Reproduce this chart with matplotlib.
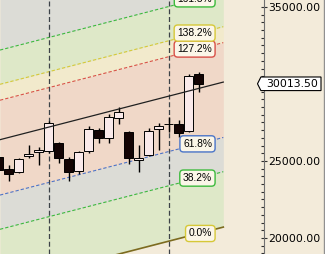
import numpy as np
import matplotlib
matplotlib.use("Agg")
import matplotlib.pyplot as plt
from matplotlib.patches import Polygon
from matplotlib.lines import Line2D
from matplotlib.ticker import MultipleLocator, FormatStrFormatter

# candles (index, open, high, low, close)
bar_idx = list(range(21))
opens = [25260, 24480, 24286, 25324, 25584, 25649, 26169, 25130, 24351, 25649,
         27013, 26494, 27792, 26883, 25065, 25389, 27078, 27430, 27402, 26948, 30649]
highs = [25519, 24740, 25200, 26039, 25909, 27597, 26230, 25250, 25650, 27272,
         27143, 28052, 28506, 26948, 26039, 27143, 27467, 27857, 27662, 30649, 30779]
lows = [24156, 23701, 24200, 25195, 24740, 25500, 24870, 23701, 24156, 25519,
        26169, 26169, 27402, 24805, 24286, 25300, 25714, 26883, 26558, 26900, 29480]
closes = [24416, 24156, 25130, 25454, 25714, 27467, 25195, 24286, 25584, 27078,
          26494, 27857, 28182, 25195, 25195, 26948, 27272, 27402, 26818, 30519, 30013.5]

# fibonacci channel
fib_levels = [0.0, 0.382, 0.618, 1.0, 1.272, 1.382, 1.618]
fib_labels = ["0.0%", "38.2%", "61.8%", None, "127.2%", "138.2%", "161.8%"]
channel_start = 16943   # 0% line at bar 0
channel_slope = 167.5   # per bar
channel_height = 9416   # 100% width
channel_end = 22.48
marker_bars = [5, 17]
# 30000 sits under the last-price tag, so only these carry labels
price_ticks = [20000, 25000, 35000]

bg = "#f3ebda"
line_colors = ["#7d6b1f", "#3cba3c", "#4a74c8", "#202020", "#d85048", "#d6c838", "#3cba3c"]
box_colors = ["#d6c838", "#3cba3c", "#4a74c8", None, "#d85048", "#d6c838", "#3cba3c"]
band_colors = ["#dee8c8", "#dcdcd6", "#f0d8c8", "#f0d8c8", "#f2eacc", "#dee8c8"]
top_color = "#dcdcd6"

fig = plt.figure(figsize=(3.25, 2.54), dpi=100)
fig.patch.set_facecolor(bg)
ax = fig.add_axes([0, 0, 263.5 / 325, 1])
ax.set_facecolor(bg)
ax.set_xlim(0.15, 26.5)
ax.set_ylim(18961, 35454)

xs = np.array([0.15, channel_end])
base = channel_start + channel_slope * xs
lvl = [base + f * channel_height for f in fib_levels]
for k, col in enumerate(band_colors):
    ax.fill_between(xs, lvl[k], lvl[k + 1], color=col, lw=0, zorder=0)
ax.fill_between(xs, lvl[-1], 40000, color=top_color, lw=0, zorder=0)

for k, f in enumerate(fib_levels):
    if f == 0.0:
        ax.plot(xs, lvl[k], color=line_colors[k], lw=1.2, zorder=1)
    elif f == 1.0:
        ax.plot(xs, lvl[k], color=line_colors[k], lw=0.9, zorder=3)
    else:
        ax.plot(xs, lvl[k], color=line_colors[k], lw=0.8, dashes=(3, 1.8), zorder=1)

for b in marker_bars:
    ax.axvline(b, color="#3c4248", lw=0.9, dashes=(4, 2.2), zorder=1)

# candles
o = np.array(opens)
c = np.array(closes)
up = c >= o
ax.vlines(bar_idx, lows, highs, color="black", lw=1, zorder=2)
ax.bar(bar_idx, np.abs(c - o), bottom=np.minimum(o, c), width=0.85,
       color=np.where(up, "#faeaea", "#140404"), edgecolor="black", lw=0.7, zorder=2.5)

# fib labels
lab_x = 20
for k, f in enumerate(fib_levels):
    if fib_labels[k] is None:
        continue
    y = channel_start + channel_slope * lab_x + f * channel_height
    ax.text(21.35, y, fib_labels[k], ha="right", va="center", fontsize=7.4,
            family="Liberation Sans", color="black", zorder=6, clip_on=False,
            bbox=dict(boxstyle="round,pad=0.3,rounding_size=0.35", fc="#fbf6e8",
                      ec=box_colors[k], lw=1))

# price axis
for s in ["left", "top", "bottom"]:
    ax.spines[s].set_visible(False)
ax.spines["right"].set_color("#707070")
ax.xaxis.set_visible(False)
ax.yaxis.tick_right()
ax.set_yticks(price_ticks)
ax.yaxis.set_major_formatter(FormatStrFormatter("%.2f"))
ax.yaxis.set_minor_locator(MultipleLocator(500))
ax.tick_params(axis="y", which="major", direction="inout", length=4.5, width=0.8,
               color="#303030", pad=1.2, labelsize=7.8, labelcolor="black")
ax.tick_params(axis="y", which="minor", direction="in", length=2.2, width=0.8, color="#303030")

# last price tag
last = closes[-1]
fig.canvas.draw()
_, yd = ax.transData.transform((0, last))
xr = ax.bbox.x1
h = 6.8
tag = Polygon([[xr - 6, yd], [xr - 2.6, yd + h], [xr + 57.5, yd + h],
               [xr + 57.5, yd - h], [xr - 2.6, yd - h]], closed=True,
              transform=None, fc="white", ec="black", lw=0.8, zorder=10)
fig.add_artist(tag)
fig.text((xr + 3.2) / fig.bbox.width, yd / fig.bbox.height, f"{last:.2f}",
         ha="left", va="center", fontsize=7.8, zorder=11)

fig.add_artist(Line2D([323.5 / 325] * 2, [0, 1], color="#909090", lw=1))

fig.savefig("out.png", dpi=100, facecolor=bg)
